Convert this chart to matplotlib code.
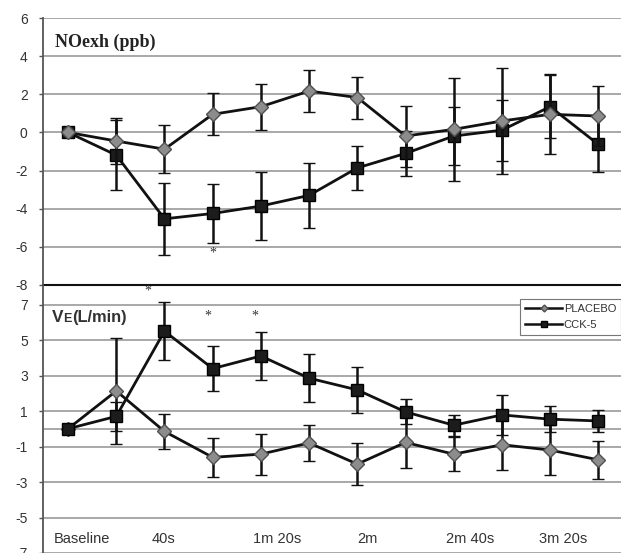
import matplotlib
matplotlib.use('Agg')
import matplotlib.pyplot as plt
from matplotlib.lines import Line2D
import numpy as np

# time points, every 20 s; only every other one is labelled
n_points = 12
time_labels = ['Baseline', '40s', '1m 20s', '2m', '2m 40s', '3m 20s']
label_pos = [0.29, 1.97, 4.34, 6.22, 8.34, 10.27]

# NOexh (ppb)
no_placebo = [0, -0.45, -0.88, 0.95, 1.35, 2.17, 1.83, -0.19, 0.16, 0.6, 0.95, 0.86]
no_placebo_err = [0, 1.2, 1.26, 1.1, 1.2, 1.1, 1.1, 1.6, 2.7, 2.8, 2.1, 1.55]
no_cck = [0, -1.19, -4.53, -4.25, -3.86, -3.3, -1.86, -1.1, -0.19, 0.12, 1.35, -0.63]
no_cck_err = [0, 1.85, 1.9, 1.55, 1.8, 1.7, 1.15, 1.2, 1.5, 1.6, 1.65, 1.45]

# VE (L/min)
ve_placebo = [0, 2.13, -0.15, -1.61, -1.43, -0.8, -1.99, -0.77, -1.43, -0.9, -1.2, -1.75]
ve_placebo_err = [0, 3.0, 1.0, 1.1, 1.16, 1.0, 1.2, 1.45, 0.95, 1.4, 1.4, 1.08]
ve_cck = [0, 0.7, 5.5, 3.39, 4.1, 2.85, 2.19, 0.95, 0.2, 0.78, 0.54, 0.44]
ve_cck_err = [0, 0.8, 1.65, 1.25, 1.35, 1.35, 1.3, 0.7, 0.6, 1.15, 0.75, 0.6]

# significance marks (x index, y value)
no_stars = [(3, -6.35)]
ve_stars = [(1.66, 7.75), (2.9, 6.34), (3.88, 6.34)]

plt.rcParams['font.family'] = ['Liberation Sans', 'DejaVu Sans']
plt.rcParams['axes.unicode_minus'] = False

W, H = 621, 553
fig = plt.figure(figsize=(W / 100, H / 100), dpi=100)
x = np.arange(n_points)

left = 43 / W
ax1 = fig.add_axes([left, 1 - 285 / H, 1 - left, (285 - 18) / H])
ax2 = fig.add_axes([left, 0, 1 - left, (H - 285) / H])

grid_c = '#9a9a9a'
text_c = '#333333'

sq_style = dict(fmt='-', marker='s', ms=9, mfc='#1c1c1c', mec='#000000', mew=1,
                color='#111111', lw=2, ecolor='#111111', elinewidth=1.8,
                capsize=4, capthick=2)
di_style = dict(fmt='-', marker='D', ms=7, mfc='#8c8c8c', mec='#505050', mew=1,
                color='#111111', lw=2, ecolor='#111111', elinewidth=1.8,
                capsize=4, capthick=2)

# top panel
ax1.errorbar(x, no_cck, yerr=no_cck_err, zorder=3, **sq_style)
ax1.errorbar(x, no_placebo, yerr=no_placebo_err, zorder=4, **di_style)
ax1.set_ylim(-8, 6)
ax1.set_yticks(np.arange(-8, 7, 2))

# bottom panel
ax2.errorbar(x, ve_placebo, yerr=ve_placebo_err, zorder=3, **di_style)
ax2.errorbar(x, ve_cck, yerr=ve_cck_err, zorder=4, **sq_style)
ax2.set_ylim(-7, 8.1)
ax2.set_yticks(np.arange(-7, 8, 2))
ax2.axhline(0, color=grid_c, lw=1.2, zorder=1)

for ax in (ax1, ax2):
    ax.set_xlim(-0.52, 11.47)
    ax.set_xticks([])
    ax.yaxis.grid(True, color=grid_c, lw=1.2)
    ax.set_axisbelow(True)
    ax.spines['top'].set_visible(False)
    ax.spines['right'].set_visible(False)
    ax.spines['left'].set_color('#555555')
    ax.spines['left'].set_linewidth(1.3)
    ax.tick_params(axis='y', length=3, width=1, color='#555555', pad=8,
                   labelsize=10, labelcolor=text_c)
    ax.patch.set_alpha(0)

ax1.spines['bottom'].set_color('#111111')
ax1.spines['bottom'].set_linewidth(1.5)
ax2.spines['bottom'].set_visible(False)

for lbl, p in zip(time_labels, label_pos):
    ax2.text(p, -6.2, lbl, ha='center', va='center', fontsize=10.5, color=text_c)

for sx, sy in no_stars:
    ax1.text(sx, sy, '*', ha='center', va='center', fontsize=10,
             family='Liberation Serif', color=text_c)
for sx, sy in ve_stars:
    ax2.text(sx, sy, '*', ha='center', va='center', fontsize=10,
             family='Liberation Serif', color=text_c)

# panel titles
fig.text(55 / W, 1 - 46.5 / H, 'NOexh (ppb)', family='Liberation Serif',
         weight='bold', fontsize=13, va='baseline', ha='left', color='#222222')
base = 1 - 321.7 / H
fig.text(52 / W, base, 'V', weight='bold', fontsize=12.4, va='baseline', color=text_c)
fig.text(63.5 / W, base, 'E', weight='bold', fontsize=9, va='baseline', color=text_c)
fig.text(72.5 / W, base, '(L/min)', weight='bold', fontsize=11.8, va='baseline', color=text_c)

handles = [Line2D([], [], color='#111111', lw=1.8, marker='D', ms=3.5,
                  mfc='#8c8c8c', mec='#505050'),
           Line2D([], [], color='#111111', lw=1.8, marker='s', ms=4.5,
                  mfc='#1c1c1c', mec='#000000')]
leg = fig.legend(handles, ['PLACEBO', 'CCK-5'], loc='upper right',
                 bbox_to_anchor=(1.0, 1 - 299 / H), bbox_transform=fig.transFigure,
                 fontsize=8, handlelength=3.3, handletextpad=0.15,
                 borderpad=0.45, labelspacing=0.55, borderaxespad=0,
                 fancybox=False, framealpha=1, edgecolor='#777777')
leg.get_frame().set_linewidth(0.8)
for t in leg.get_texts():
    t.set_color(text_c)

fig.savefig('out.png', dpi=100)
